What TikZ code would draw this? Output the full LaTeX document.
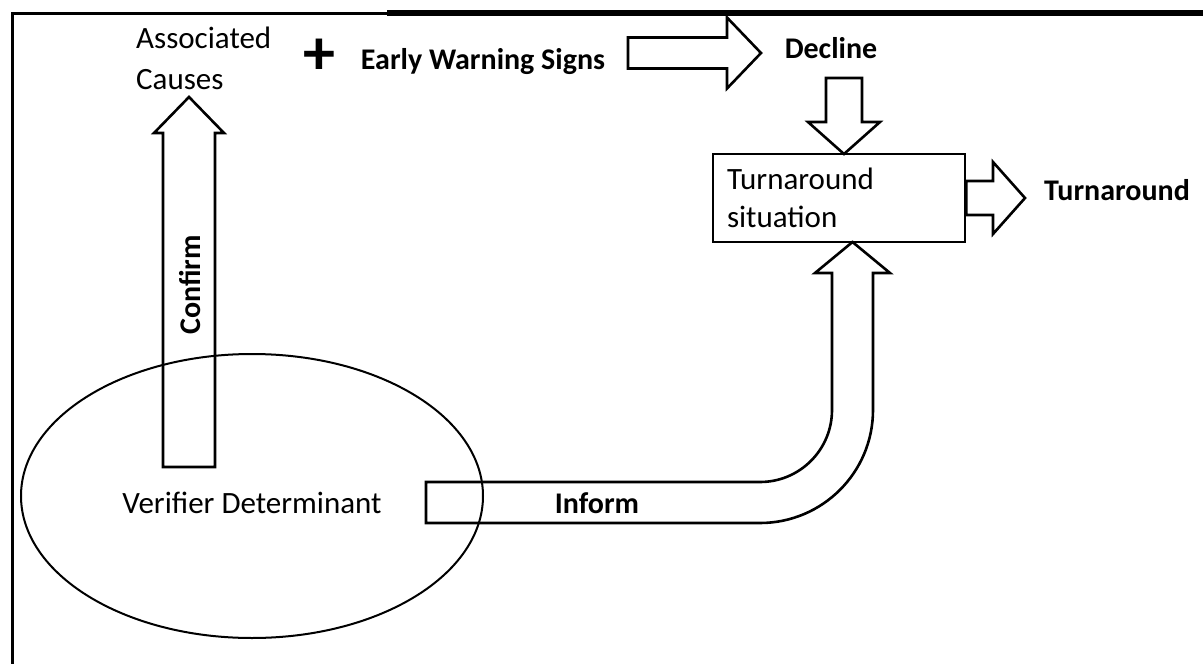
\documentclass[tikz,border=0pt]{standalone}
\usepackage{fontspec}
\setmainfont{Carlito}
\usepackage{tikz}
\usetikzlibrary{calc,shapes.geometric}

% block arrow: from, tip, shaft half width, head half width, head length
\newcommand{\blockarrow}[5]{%
  \coordinate (ba-h) at ($(#2)!#5!(#1)$);
  \draw[blockline] ($(#1)!#3!90:(#2)$) -- ($(ba-h)!#3!90:(#2)$)
    -- ($(ba-h)!#4!90:(#2)$) -- (#2) -- ($(ba-h)!#4!-90:(#2)$)
    -- ($(ba-h)!#3!-90:(#2)$) -- ($(#1)!#3!-90:(#2)$) -- cycle;
}

\begin{document}
\begin{tikzpicture}[x=1pt, y=-1pt,
    blockline/.style = {draw, line width=2.6pt, line join=miter},
    plain/.style = {inner sep=0pt, font=\fontsize{31}{41}\selectfont},
    heavy/.style = {inner sep=0pt, font=\fontsize{30}{38}\selectfont\bfseries}]
    \useasboundingbox (0,0) rectangle (1203,664);

    % frame
    \draw[line width=3pt] (12,664) -- (12,13) -- (387,13);
    \draw[line width=6pt] (387,13) -- (1203,13);

    \node[plain, anchor=west, align=left] (causes) at (136,58) {Associated\\Causes};
    \node[inner sep=0pt, font=\fontsize{64}{64}\selectfont\bfseries] (plus) at (319,57) {+};
    \node[heavy] (warn) at (483,62) {Early Warning Signs};
    \node[heavy] (decline) at (831,48) {Decline};
    \node[draw, line width=2.6pt, minimum width=252pt, minimum height=88pt,
          inner xsep=14pt, text width=224pt, align=left,
          font=\fontsize{31}{38}\selectfont] (turn) at (839,198) {Turnaround\\situation};
    \node[heavy] (result) at (1117,190) {Turnaround};
    \node[draw, ellipse, line width=2pt, minimum width=462pt, minimum height=284pt,
          inner sep=0pt] (verifier) at (252,496) {};
    \node[plain] (verifiertext) at ([yshift=-7pt]verifier.center) {Verifier Determinant};
    \node[heavy, rotate=90] (confirm) at (190,285) {Confirm};
    \node[heavy] (inform) at (597,503) {Inform};

    \coordinate (confirmstart) at (189,467);
    \coordinate (confirmtip) at (189,97);
    \coordinate (warnstart) at (628,53);
    \coordinate (warntip) at (761,53);
    \coordinate (declinestart) at (844,78);
    \coordinate (declinetip) at (844,154);
    \coordinate (outtip) at (1025,198);
    \coordinate (informtip) at (852.5,242);

    \blockarrow{confirmstart}{confirmtip}{26pt}{35pt}{36pt}
    \blockarrow{warnstart}{warntip}{15.5pt}{35.5pt}{34pt}
    \blockarrow{declinestart}{declinetip}{18pt}{36pt}{32pt}
    \blockarrow{turn.east}{outtip}{17pt}{36pt}{32pt}

    % bent arrow
    \draw[blockline] (426,482) -- (760,482) arc[start angle=-90, end angle=0, radius=72pt]
        -- (832,273) -- (815,273) -- (informtip) -- (890,273) -- (873,273) -- (873,410)
        arc[start angle=0, end angle=-90, radius=113pt] -- (426,523) -- cycle;
\end{tikzpicture}
\end{document}
